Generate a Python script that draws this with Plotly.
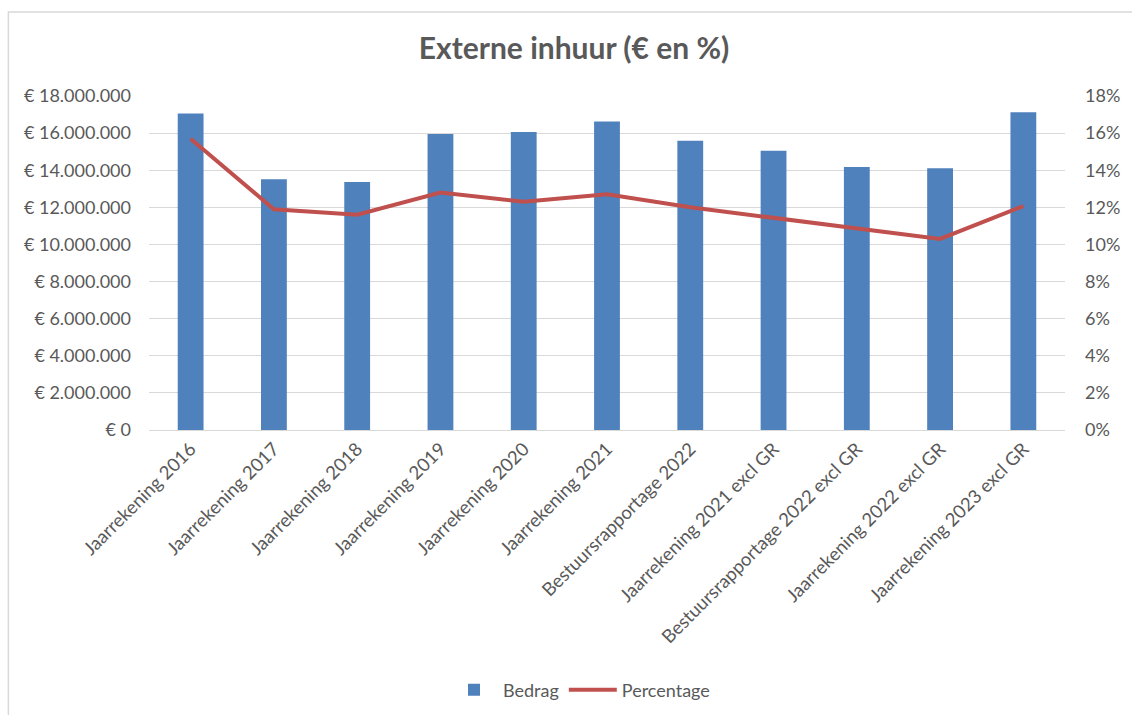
import plotly.graph_objects as go

categories = [
    "Jaarrekening 2016", "Jaarrekening 2017", "Jaarrekening 2018", "Jaarrekening 2019",
    "Jaarrekening 2020", "Jaarrekening 2021", "Bestuursrapportage 2022",
    "Jaarrekening 2021 excl GR", "Bestuursrapportage 2022 excl GR",
    "Jaarrekening 2022 excl GR", "Jaarrekening 2023 excl GR",
]
bedrag = [17060000, 13520000, 13360000, 15950000, 16060000, 16630000,
          15590000, 15050000, 14170000, 14100000, 17120000]
percentage = [15.7, 11.9, 11.6, 12.8, 12.3, 12.7, 12.0, 11.45, 10.9, 10.3, 12.07]

left_ticks = [0, 2000000, 4000000, 6000000, 8000000, 10000000, 12000000, 14000000, 16000000, 18000000]
left_labels = ["€ " + f"{v:,}".replace(",", ".") for v in left_ticks]
right_ticks = [0, 2, 4, 6, 8, 10, 12, 14, 16, 18]
right_labels = [f"{v}%" for v in right_ticks]

FONT = "Lato"
GREY = "#595959"

fig = go.Figure()
fig.add_trace(go.Bar(x=categories, y=bedrag, name="Bedrag", marker_color="#4F81BD",
                     marker_line_width=0, width=0.31, yaxis="y"))
fig.add_trace(go.Scatter(x=categories, y=percentage, name="Percentage", mode="lines",
                         line=dict(color="#C0504D", width=4), yaxis="y2"))

fig.update_layout(
    width=1132, height=715,
    margin=dict(l=149, r=58, t=96, b=285),
    paper_bgcolor="white", plot_bgcolor="white",
    font=dict(family=FONT, color=GREY, size=18),
    title=dict(text="<b>Externe inhuur (€ en %)</b>", x=574 / 1132, xref="container", xanchor="center",
               y=1 - 48 / 715, yref="container", yanchor="middle",
               font=dict(family=FONT, size=30, color=GREY)),
    xaxis=dict(type="category", tickangle=-45, tickfont=dict(size=18.5, color=GREY),
               showline=True, linecolor="#D9D9D9", linewidth=1, ticks="",
               showgrid=False),
    yaxis=dict(range=[0, 18000000], tickmode="array", tickvals=left_ticks, ticktext=left_labels,
               showgrid=True, gridcolor="#D9D9D9", gridwidth=1, zeroline=False,
               ticks="", tickfont=dict(size=18, color=GREY), ticklabelstandoff=17),
    yaxis2=dict(range=[0, 18], tickmode="array", tickvals=right_ticks, ticktext=right_labels,
                overlaying="y", side="right", showgrid=False, zeroline=False, ticks="",
                tickfont=dict(size=18, color=GREY), ticklabelstandoff=19),
    legend=dict(orientation="h", xref="container", yref="container", x=580 / 1132, y=1 - 690 / 715,
                xanchor="center", yanchor="middle", font=dict(size=18, color=GREY),
                itemwidth=48, entrywidth=0),
    showlegend=True,
)

# chart outer border (light grey)
fig.add_shape(type="rect", xref="paper", yref="paper",
              x0=(7 - 149) / 925, x1=(1145 - 149) / 925,
              y0=(430 - 730) / 334, y1=(430 - 12) / 334,
              line=dict(color="#D9D9D9", width=1.5), fillcolor="rgba(0,0,0,0)", layer="below")

fig.write_html("out.html", config={"displayModeBar": False},
               post_script="document.body.style.margin='0';document.body.style.overflow='hidden';")
